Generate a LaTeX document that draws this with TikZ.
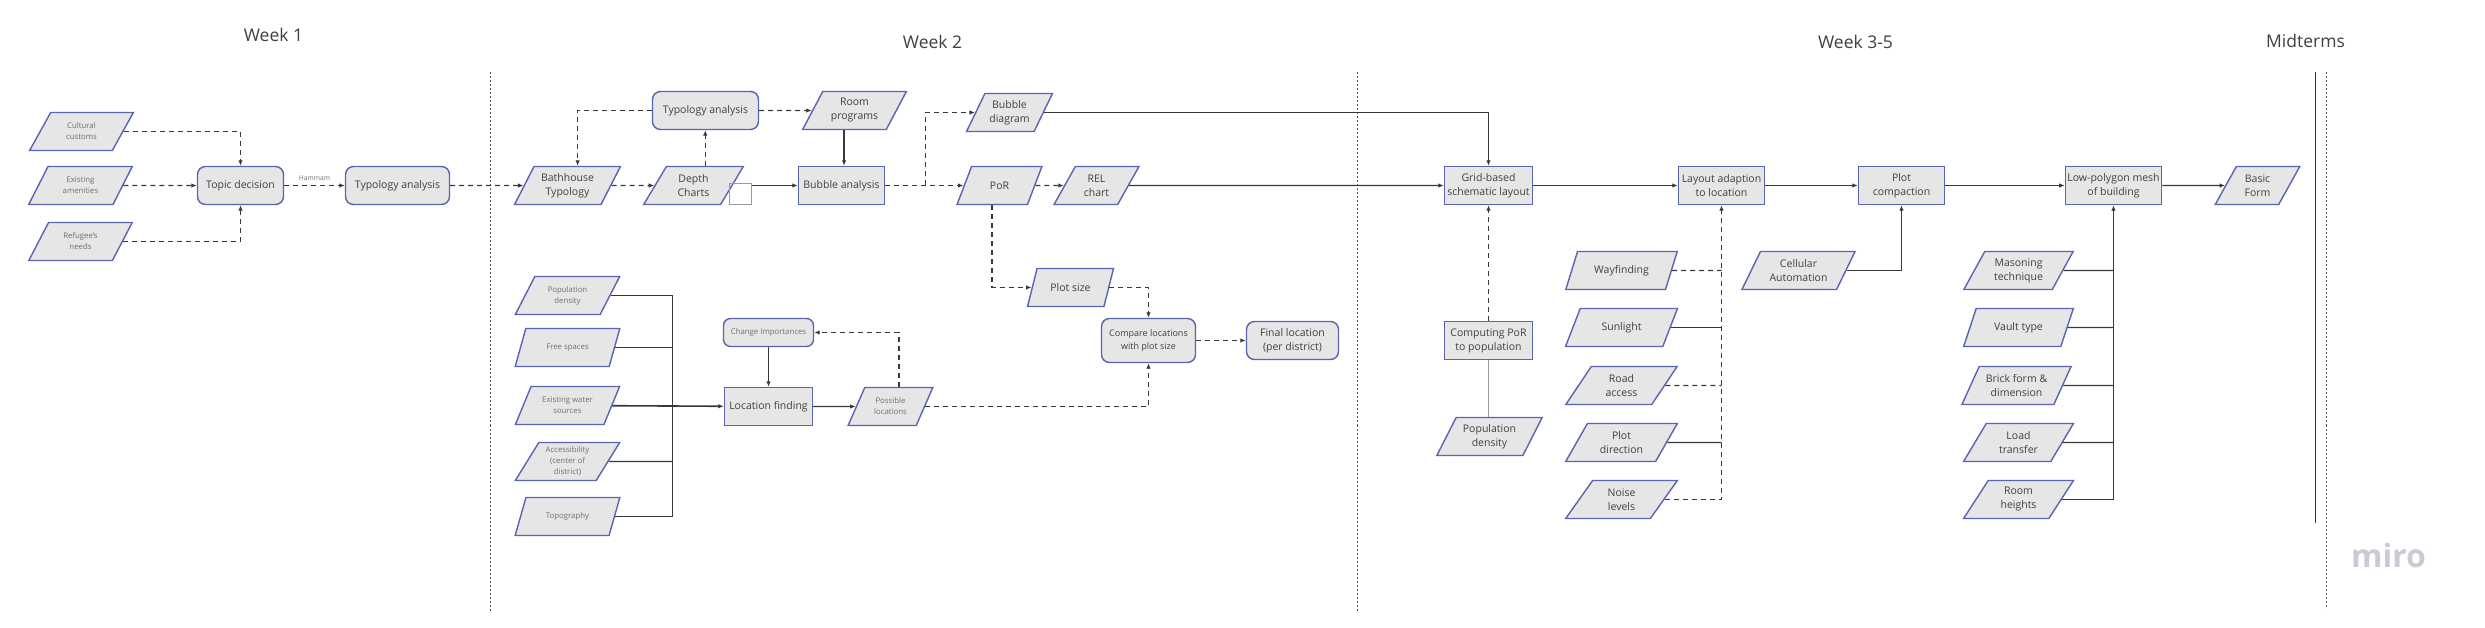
\documentclass[tikz,border=0pt]{standalone}
\usepackage{fontspec}
\setmainfont{Open Sans}
\usetikzlibrary{shapes.geometric,arrows.meta}
\definecolor{nodefill}{HTML}{E6E6E6}
\definecolor{nodeblue}{HTML}{5A64B0}
\definecolor{txtd}{HTML}{404040}
\definecolor{txtg}{HTML}{707070}
\definecolor{lnc}{HTML}{383838}
\definecolor{lgc}{HTML}{9A9A9A}
\definecolor{sepc}{HTML}{555555}
\definecolor{miroc}{HTML}{CBCBD8}
\tikzset{
  base/.style={draw=nodeblue, fill=nodefill, line width=1.4pt, align=center, text=txtd,
    font=\fontsize{10.5}{14}\selectfont, inner xsep=2pt, inner ysep=1pt},
  para/.style={base, trapezium, trapezium left angle=58, trapezium right angle=122,
    trapezium stretches=true, minimum width=#1, minimum height=38pt},
  para/.default=104pt,
  rbox/.style={base, rounded corners=8pt, minimum width=#1, minimum height=38pt},
  rbox/.default=86pt,
  sbox/.style={base, minimum width=#1, minimum height=38pt},
  sbox/.default=86pt,
  small/.style={text=txtg, font=\fontsize{7.8}{11}\selectfont},
  hdr/.style={text=txtd, font=\fontsize{17.5}{20}\selectfont, inner sep=0pt},
  sconn/.style={draw=lnc, line width=1.3pt, -{Latex[length=5.5pt,width=4.5pt]}},
  dconn/.style={draw=lnc, line width=1.3pt, dash pattern=on 5pt off 4pt, -{Latex[length=5.5pt,width=4.5pt]}},
  sline/.style={draw=lnc, line width=1.3pt},
  dline/.style={draw=lnc, line width=1.3pt, dash pattern=on 5pt off 4pt},
  sepline/.style={draw=sepc, line width=1.2pt, dash pattern=on 2pt off 2pt},
}
\begin{document}
\begin{tikzpicture}[x=1pt,y=-1pt]
\useasboundingbox (-0.5,-0.5) rectangle (2484.5,627.5);
\fill[white] (-0.5,-0.5) rectangle (2484.5,627.5);

% headers
\node[hdr] (w1) at (273,34) {Week 1};
\node[hdr] (w2) at (932,41) {Week 2};
\node[hdr] (w3) at (1855,41) {Week 3-5};
\node[hdr] (mt) at (2305,40) {Midterms};

% separators
\coordinate (s1a) at (490,72); \coordinate (s1b) at (490,610);
\coordinate (s2a) at (1357,72); \coordinate (s2b) at (1357,610);
\coordinate (s3a) at (2326,72); \coordinate (s3b) at (2326,608);
\coordinate (s4a) at (2315,72); \coordinate (s4b) at (2315,522);
\draw[sepline] (s1a) -- (s1b);
\draw[sepline] (s2a) -- (s2b);
\draw[sepline] (s3a) -- (s3b);
\draw[draw=lnc, line width=1.3pt] (s4a) -- (s4b);

% Week 1
\node[para, small] (cc) at (81,131) {Cultural\\customs};
\node[para, small] (ea) at (80,185) {Existing\\amenities};
\node[para, small] (rn) at (80,241) {Refugee's\\needs};
\node[rbox=86pt] (td) at (240,185) {Topic decision};
\node[rbox=104pt] (ta1) at (397,185) {Typology analysis};

\draw[dconn] (cc) -| (td);
\draw[dconn] (ea) -- (td);
\draw[dconn] (rn) -| (td);
\draw[dconn] (td) -- node[above=1pt, text=txtg, font=\fontsize{6.7}{8}\selectfont] {Hammam} (ta1);

% Week 2 upper
\node[para=106pt] (bt) at (567,185) {Bathhouse\\Typology};
\node[para=100pt] (dc) at (693,185) {Depth\\Charts};
\node[rbox=106pt] (ta2) at (705,110) {Typology analysis};
\node[para=104pt] (rp) at (854,110) {Room\\programs};
\node[sbox=86pt] (ba) at (841,185) {Bubble analysis};
\node[draw=lgc, line width=0.8pt, minimum width=22pt, minimum height=21pt, inner sep=0pt] (sq) at (740,193.5) {};
\node[para=86pt] (bd) at (1009,112) {Bubble\\diagram};
\node[para=85pt] (por) at (999,185) {PoR};
\node[para=85pt] (rel) at (1096,185) {REL\\chart};
\coordinate (j1) at (925,185);

\draw[dconn] (ta1) -- (bt);
\draw[dconn] (bt) -- (dc);
\draw[dconn] (ta2.west) -| (bt.top side);
\draw[dconn] (dc.top side) -- (dc.top side |- ta2.south);
\draw[dconn] (ta2) -- (rp);
\draw[sconn] (rp.bottom side) -- (rp.bottom side |- ba.north);
\draw[sconn] (sq.east |- dc) -- (ba);
\draw[dconn] (ba) -- (por);
\draw[dconn] (j1) |- (bd);
\draw[dconn] (por) -- (rel);

% Week 2 lower
\node[para=86pt] (ps) at (1070,287) {Plot size};
\node[rbox=94pt, minimum height=44pt, font=\fontsize{9}{12.5}\selectfont] (cmp) at (1148,340) {Compare locations\\with plot size};
\node[rbox=92pt] (fl) at (1292,340) {Final location\\(per district)};

\node[para=105pt, small] (pd1) at (567,295) {Population\\density};
\node[para=105pt, small] (fs) at (567,347) {Free spaces};
\node[para=105pt, small] (ew) at (567,405) {Existing water\\sources};
\node[para=105pt, small] (ac) at (567,461) {Accessibility\\(center of\\district)};
\node[para=105pt, small] (tp) at (567,516) {Topography};
\node[sbox=88pt] (lf) at (768,406) {Location finding};
\node[rbox=90pt, minimum height=28pt, small, rounded corners=7pt] (ci) at (768,332) {Change Importances};
\node[para=85pt, small] (pl) at (890,406) {Possible\\locations};
\coordinate (bus) at (672,406);

\draw[sline] (pd1) -| (bus);
\draw[sline] (tp) -| (bus);
\draw[sline] (fs) -- (fs -| bus);
\draw[sline] (ac) -- (ac -| bus);
\draw[sconn, line width=1.6pt] (ew) -- (lf);
\draw[sconn] (ci) -- (lf);
\draw[sconn] (lf) -- (pl);
\draw[dconn] (pl.top side) |- (ci);
\draw[dconn] (pl) -| (cmp);
\draw[dconn] (por.bottom side) |- (ps);
\draw[dconn] (ps) -| (cmp);
\draw[dconn] (cmp) -- (fl);

% Week 3-5
\node[sbox=88pt] (gb) at (1488,185) {Grid-based\\schematic layout};
\node[sbox=86pt] (la) at (1721,185) {Layout adaption\\to location};
\node[sbox=86pt] (pc) at (1901,185) {Plot\\compaction};
\node[sbox=96pt] (lp) at (2113,185) {Low-polygon mesh\\of building};
\node[para=85pt] (bf) at (2257,185) {Basic\\Form};
\node[sbox=88pt] (cp) at (1488,340) {Computing PoR\\to population};
\node[para=106pt] (pd2) at (1489,436) {Population\\density};

\node[para=112pt] (wf) at (1621,270) {Wayfinding};
\node[para=112pt] (sl) at (1621,327) {Sunlight};
\node[para=112pt] (ra) at (1621,385) {Road\\access};
\node[para=112pt] (pdr) at (1621,442) {Plot\\direction};
\node[para=112pt] (nl) at (1621,499) {Noise\\levels};
\node[para=114pt] (ca) at (1798,270) {Cellular\\Automation};

\node[para=110pt] (mtq) at (2018,270) {Masoning\\technique};
\node[para=110pt] (vt) at (2018,327) {Vault type};
\node[para=110pt] (bfd) at (2016,385) {Brick form \&\\dimension};
\node[para=110pt] (lt) at (2018,442) {Load\\transfer};
\node[para=110pt] (rh) at (2018,499) {Room\\heights};

\draw[sconn] (bd) -| (gb);
\draw[sconn] (rel) -- (gb);
\draw[sconn] (gb) -- (la);
\draw[dconn] (cp) -- (gb);
\draw[draw=lgc, line width=1.1pt] (cp.south) -- (cp.south |- pd2.north);
\draw[dconn] (nl) -| (la);
\draw[dline] (wf) -- (wf -| la);
\draw[dline] (ra) -- (ra -| la);
\draw[sline] (sl) -- (sl -| la);
\draw[sline] (pdr) -- (pdr -| la);
\draw[sconn] (la) -- (pc);
\draw[sconn] (ca) -| (pc);
\draw[sconn] (pc) -- (lp);
\draw[sconn] (lp) -- (bf);
\draw[sconn] (rh) -| (lp);
\draw[sline] (mtq) -- (mtq -| lp);
\draw[sline] (vt) -- (vt -| lp);
\draw[sline] (bfd) -- (bfd -| lp);
\draw[sline] (lt) -- (lt -| lp);

% watermark
\node[text=miroc, font=\fontsize{32}{32}\bfseries\selectfont] (miro) at (2388,555) {miro};
\end{tikzpicture}
\end{document}
